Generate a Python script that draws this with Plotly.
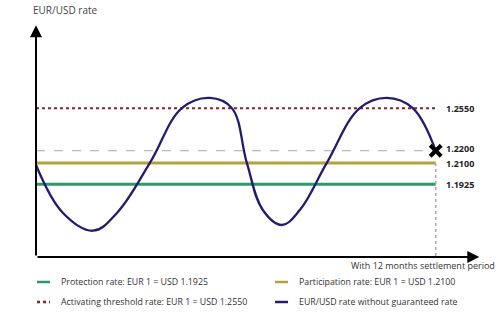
import plotly.graph_objects as go

# ---- data ----
months = [0, 0.81, 1.71, 2.43, 3.42, 4.38, 5.22, 5.88, 6.33, 6.81, 7.38, 7.92, 8.73, 9.72, 10.53, 11.31, 12]
rate = [1.2083, 1.1689, 1.1543, 1.1689, 1.2100, 1.2550, 1.2634, 1.2550, 1.2100, 1.1713, 1.1590,
        1.1713, 1.2100, 1.2550, 1.2634, 1.2550, 1.2200]

protection_rate = 1.1925
participation_rate = 1.2100
threshold_rate = 1.2550
final_rate = 1.2200
period_end = 12

left_labels = ["1.2550", "1.2100", "1.1925"]
left_values = [threshold_rate, participation_rate, protection_rate]
right_labels = ["1.2550", "1.2200", "1.2100", "1.1925"]
right_values = [threshold_rate, final_rate, participation_rate, protection_rate]

legend_items = [
    ("Protection rate: EUR 1 = USD 1.1925", "#2a9a6a", "solid"),
    ("Participation rate: EUR 1 = USD 1.2100", "#b5a23c", "solid"),
    ("Activating threshold rate: EUR 1 = USD 1.2550", "#8b2323", "dot"),
    ("EUR/USD rate without guaranteed rate", "#221c6e", "solid"),
]

FONT = "Open Sans"
XMAX = 13.33
YMIN, YMAX = 1.13271, 1.32329

# plot area in pixels: x 36..480, y 25..257
def px(x):
    return (x - 36) / 444.0

def py(y):
    return (257 - y) / 232.0

fig = go.Figure()

fig.add_trace(go.Scatter(x=[0, period_end], y=[final_rate]*2, mode="lines",
                         line=dict(color="#a8a8a8", width=1, dash="dash"), hoverinfo="skip"))
fig.add_trace(go.Scatter(x=[0, period_end], y=[threshold_rate]*2, mode="lines",
                         line=dict(color="#8b2323", width=2, dash="dot"), hoverinfo="skip"))
fig.add_trace(go.Scatter(x=[0, period_end], y=[participation_rate]*2, mode="lines",
                         line=dict(color="#b5a23c", width=3), hoverinfo="skip"))
fig.add_trace(go.Scatter(x=[0, period_end], y=[protection_rate]*2, mode="lines",
                         line=dict(color="#2a9a6a", width=3), hoverinfo="skip"))
fig.add_trace(go.Scatter(x=[period_end, period_end], y=[participation_rate, YMIN], mode="lines",
                         line=dict(color="#a8a8a8", width=1.5, dash="dot"), hoverinfo="skip"))
fig.add_trace(go.Scatter(x=months, y=rate, mode="lines", line_shape="spline",
                         line=dict(color="#221c6e", width=2.3, smoothing=1.1), hoverinfo="skip"))
fig.add_trace(go.Scatter(x=[period_end], y=[final_rate], mode="markers",
                         marker=dict(symbol="x-thin", size=11, line=dict(color="black", width=4)),
                         hoverinfo="skip"))

ann = []
ann.append(dict(x=0, y=YMAX - 0.0002, ax=0, ay=YMIN, xref="x", yref="y", axref="x", ayref="y",
                showarrow=True, arrowhead=2, arrowsize=1.2, arrowwidth=2, arrowcolor="black",
                standoff=0, startstandoff=0, text=""))
ann.append(dict(x=XMAX - 0.02, y=YMIN, ax=0, ay=YMIN, xref="x", yref="y", axref="x", ayref="y",
                showarrow=True, arrowhead=2, arrowsize=1.2, arrowwidth=2, arrowcolor="black",
                standoff=0, startstandoff=0, text=""))

for lab, v in zip(left_labels, left_values):
    ann.append(dict(x=-0.12, y=v, xref="x", yref="y", text="<b>%s</b>" % lab, showarrow=False,
                    xanchor="right", yanchor="middle", font=dict(family=FONT, size=9, color="#222")))
right_y_offsets = [0, 2, -1, 0]
for lab, v, off in zip(right_labels, right_values, right_y_offsets):
    ann.append(dict(x=12.25, y=v, xref="x", yref="y", text="<b>%s</b>" % lab, showarrow=False,
                    xanchor="left", yanchor="middle", yshift=off,
                    font=dict(family=FONT, size=9, color="#222")))

ann.append(dict(x=px(31), y=py(10), xref="paper", yref="paper", text="EUR/USD rate",
                showarrow=False, xanchor="left", yanchor="middle",
                font=dict(family=FONT, size=10, color="#444")))
ann.append(dict(x=px(497), y=py(265), xref="paper", yref="paper",
                text="With 12 months settlement period", showarrow=False,
                xanchor="right", yanchor="middle", font=dict(family=FONT, size=9, color="#333")))

shapes = []
pos = [(37, 282), (275, 282), (37, 302), (275, 302)]
for (txt, col, dash), (lx, ly) in zip(legend_items, pos):
    shapes.append(dict(type="line", xref="paper", yref="paper",
                       x0=px(lx), x1=px(lx + 13), y0=py(ly), y1=py(ly),
                       line=dict(color=col, width=2.5, dash=dash)))
    ann.append(dict(x=px(lx + 22), y=py(ly), xref="paper", yref="paper", text=txt,
                    showarrow=False, xanchor="left", yanchor="middle",
                    font=dict(family=FONT, size=8.8, color="#333")))

fig.update_layout(
    width=500, height=320,
    margin=dict(l=36, r=20, t=25, b=63),
    plot_bgcolor="white", paper_bgcolor="white",
    showlegend=False,
    xaxis=dict(range=[0, XMAX], visible=False, fixedrange=True),
    yaxis=dict(range=[YMIN, YMAX], visible=False, fixedrange=True),
    annotations=ann, shapes=shapes,
)
for t in fig.data:
    t.cliponaxis = False

fig.write_html("out.html")
